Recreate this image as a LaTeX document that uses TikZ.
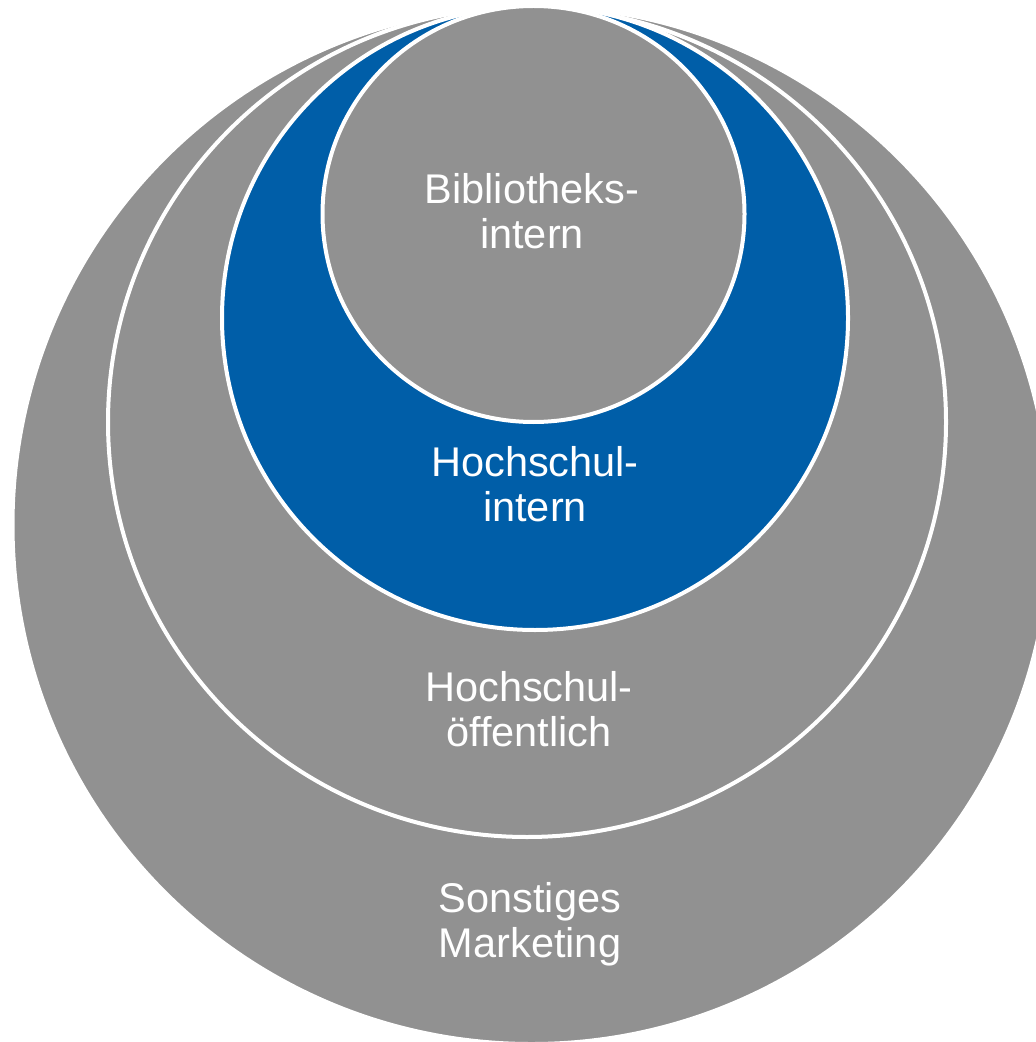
\documentclass[tikz,border=0pt]{standalone}
\usepackage{fontspec}
\setmainfont{Liberation Sans}
\definecolor{ringgray}{RGB}{145,145,145}
\definecolor{ringblue}{RGB}{0,94,168}
\begin{document}
\begin{tikzpicture}[x=0.5pt,y=-0.5pt,
  ring/.style={draw=white,line width=2pt},
  lbl/.style={text=white,align=center,inner sep=0pt,
    font=\fontsize{20.75}{22.5}\selectfont}]
\useasboundingbox (0,0) rectangle (1036,1042);
\clip (0,0) rectangle (1036,1042);
\draw[ring,fill=ringgray] (531.5,525) circle [radius=259.5pt];
\draw[ring,fill=ringgray] (527,422) ellipse [x radius=209.5pt, y radius=207.5pt];
\draw[ring,fill=ringblue] (535,318) ellipse [x radius=156.5pt, y radius=156pt];
\draw[ring,fill=ringgray] (533.5,214) ellipse [x radius=105.5pt, y radius=104pt];
\node[lbl] (bib) at (532,211.5) {Bibliotheks-\\intern};
\node[lbl] (hsi) at (535,484.5) {Hochschul-\\intern};
\node[lbl] (hso) at (529,709.5) {Hochschul-\\öffentlich};
\node[lbl] (som) at (530,924.5) {Sonstiges\\Marketing};
\end{tikzpicture}
\end{document}
